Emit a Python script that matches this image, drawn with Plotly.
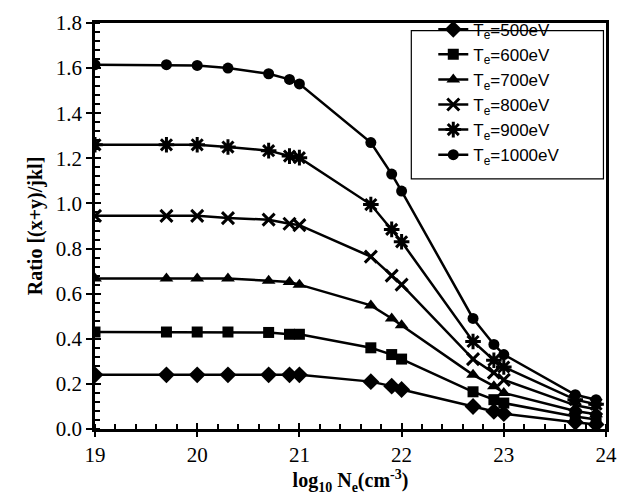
import plotly.graph_objects as go

# log10 of electron density (cm^-3)
log_ne = [19.0, 19.699, 20.0, 20.301, 20.699, 20.903, 21.0,
          21.699, 21.903, 22.0, 22.699, 22.903, 23.0, 23.699, 23.903]

# Intensity ratio (x+y)/jkl for each electron temperature
ratio_500 = [0.24, 0.24, 0.24, 0.24, 0.24, 0.24, 0.24,
             0.21, 0.19, 0.175, 0.10, 0.078, 0.068, 0.03, 0.02]
ratio_600 = [0.43, 0.43, 0.43, 0.43, 0.428, 0.42, 0.42,
             0.36, 0.33, 0.31, 0.165, 0.13, 0.115, 0.055, 0.042]
ratio_700 = [0.667, 0.667, 0.667, 0.667, 0.657, 0.652, 0.64,
             0.548, 0.49, 0.46, 0.24, 0.19, 0.16, 0.08, 0.065]
ratio_800 = [0.945, 0.945, 0.945, 0.935, 0.928, 0.91, 0.904,
             0.764, 0.68, 0.64, 0.31, 0.25, 0.218, 0.105, 0.088]
ratio_900 = [1.26, 1.26, 1.26, 1.25, 1.234, 1.21, 1.203,
             0.995, 0.885, 0.83, 0.388, 0.305, 0.275, 0.13, 0.11]
ratio_1000 = [1.615, 1.615, 1.612, 1.60, 1.575, 1.55, 1.53,
              1.27, 1.13, 1.055, 0.49, 0.375, 0.33, 0.152, 0.13]

temps = ["500", "600", "700", "800", "900", "1000"]
series = [ratio_500, ratio_600, ratio_700, ratio_800, ratio_900, ratio_1000]
symbols = ["diamond", "square", "triangle-up", "x-thin-open", "asterisk-open", "circle"]
sizes = [13, 11, 12, 12, 13, 11]

fig = go.Figure()
for t, vals, sym, sz in zip(temps, series, symbols, sizes):
    open_marker = sym.endswith("open")
    fig.add_trace(go.Scatter(
        x=log_ne, y=vals, mode="lines+markers",
        name=f"T<sub>e</sub>={t}eV",
        line=dict(color="black", width=2.5),
        marker=dict(symbol=sym, size=sz, color="black",
                    line=dict(color="black", width=3 if open_marker else 0)),
    ))

# invisible trace so the overlay axes (inner half of major ticks) get drawn
fig.add_trace(go.Scatter(x=[19, 24], y=[0, 1.8], xaxis="x2", yaxis="y2",
                         mode="markers", marker=dict(opacity=0),
                         showlegend=False, hoverinfo="skip"))

tick_font = dict(family="Liberation Serif", size=21, color="black")
title_font = dict(family="Liberation Serif", size=20, color="black")

# framed box behind the legend, with extra room around the entries
fig.add_shape(type="rect", xref="paper", yref="paper",
              x0=0.619, x1=0.995, y0=0.616, y1=0.981,
              line=dict(color="black", width=1.2), fillcolor="white", layer="below")

fig.update_layout(
    width=633, height=504,
    margin=dict(l=95, r=27, t=12, b=75),
    paper_bgcolor="white", plot_bgcolor="white",
    showlegend=True,
    legend=dict(
        x=0.662, y=1.028, xanchor="left", yanchor="top",
        bgcolor="rgba(0,0,0,0)", borderwidth=0,
        font=dict(family="Liberation Sans", size=17, color="black"),
        tracegroupgap=0,
    ),
    xaxis=dict(
        range=[19, 24], dtick=1, tick0=19,
        showline=True, linecolor="black", linewidth=2.5, mirror=True,
        ticks="outside", ticklen=5, tickwidth=2, tickcolor="black",
        minor=dict(dtick=0.2, ticks="inside", ticklen=5, tickwidth=1.5, tickcolor="black"),
        showgrid=False, zeroline=False,
        tickfont=tick_font,
        title=dict(text="<b>log<sub>10</sub> N<sub>e</sub>(cm<sup>-3</sup>)</b>",
                   font=title_font, standoff=8),
    ),
    yaxis=dict(
        range=[0, 1.8], dtick=0.2, tick0=0, tickformat=".1f",
        showline=True, linecolor="black", linewidth=2.5, mirror=True,
        ticks="outside", ticklen=6, tickwidth=2, tickcolor="black",
        minor=dict(dtick=0.04, ticks="inside", ticklen=5, tickwidth=1.5, tickcolor="black"),
        showgrid=False, zeroline=False,
        tickfont=tick_font,
        title=dict(text="<b>Ratio [(x+y)/jkl]</b>", font=title_font, standoff=8),
    ),
    xaxis2=dict(overlaying="x", matches="x", range=[19, 24], dtick=1, tick0=19,
                ticks="inside", ticklen=6, tickwidth=2, tickcolor="black",
                showticklabels=False, showgrid=False, zeroline=False,
                showline=False, side="bottom"),
    yaxis2=dict(overlaying="y", matches="y", range=[0, 1.8], dtick=0.2, tick0=0,
                ticks="inside", ticklen=6, tickwidth=2, tickcolor="black",
                showticklabels=False, showgrid=False, zeroline=False,
                showline=False, side="left"),
)

fig.write_html("out.html")
